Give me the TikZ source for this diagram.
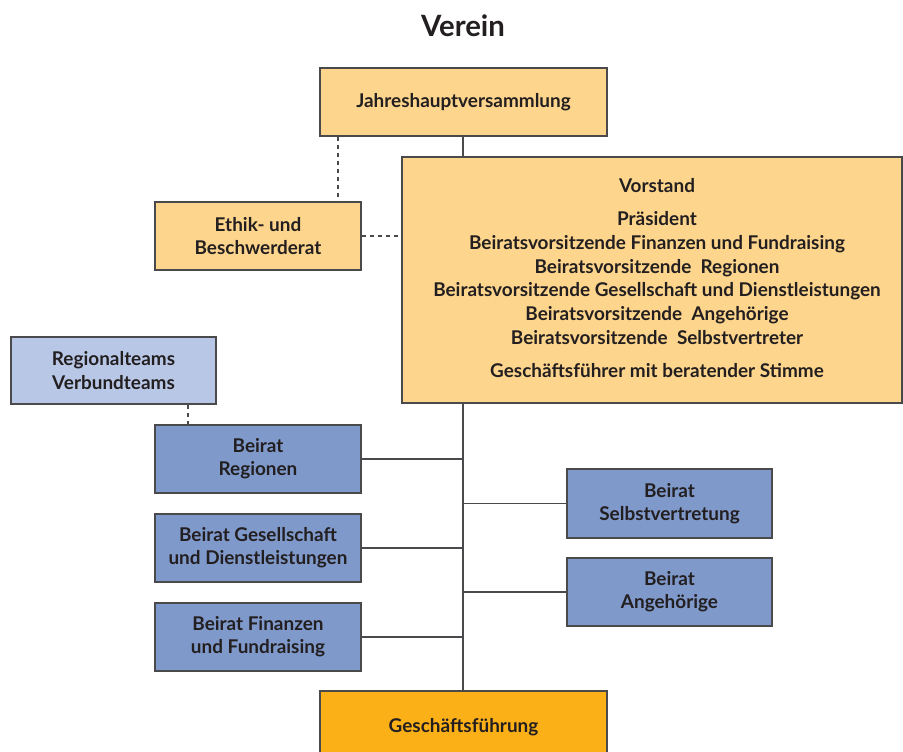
\documentclass[tikz,border=0pt]{standalone}
\usepackage{fontspec}
\setmainfont{Lato}
\definecolor{lorange}{HTML}{FDD58C}
\definecolor{dorange}{HTML}{FBB017}
\definecolor{mblue}{HTML}{7F99CB}
\definecolor{lblue}{HTML}{B8C7E6}
\definecolor{edge}{HTML}{4A4A4C}
\definecolor{txt}{HTML}{231F20}
\begin{document}
\begin{tikzpicture}[x=0.75pt,y=-0.75pt,
  box/.style={draw=edge,line width=1.1pt,inner sep=0pt,align=center,text=txt,
    font=\fontsize{14.2}{17.4}\selectfont\bfseries},
  vtext/.style={text=txt,align=center,inner sep=0pt,font=\fontsize{14.2}{17.9}\selectfont\bfseries},
  conn/.style={draw=edge,line width=1pt},
  dconn/.style={draw=edge,line width=1pt,dash pattern=on 3pt off 3pt}]
\useasboundingbox (0,0) rectangle (903,751);
\clip (0,0) rectangle (903,751);
\node[text=txt,font=\fontsize{22}{26}\selectfont\bfseries] (title) at (463,26) {Verein};
\node[box,fill=lorange,minimum width=287*0.75pt,minimum height=68*0.75pt] (jhv) at (463.5,102) {\raisebox{-1.5pt}{Jahreshauptversammlung}};
\node[box,fill=lorange,minimum width=500*0.75pt,minimum height=246*0.75pt] (vor) at (652,280) {};
\node[vtext] (vort) at (657,186) {Vorstand};
\node[vtext,anchor=north] (vorl) at (657,211) {Präsident\\Beiratsvorsitzende Finanzen und Fundraising\\Beiratsvorsitzende~~Regionen\\Beiratsvorsitzende Gesellschaft und Dienstleistungen\\Beiratsvorsitzende~~Angehörige\\Beiratsvorsitzende~~Selbstvertreter};
\node[vtext] (vorg) at (657,371) {Geschäftsführer mit beratender Stimme};
\node[box,fill=lorange,minimum width=206*0.75pt,minimum height=68*0.75pt] (ethik) at (258,236) {Ethik- und\\Beschwerderat};
\node[box,fill=lblue,minimum width=205*0.75pt,minimum height=67*0.75pt] (regt) at (113.5,370.5) {Regionalteams\\Verbundteams};
\node[box,fill=mblue,minimum width=206*0.75pt,minimum height=68*0.75pt] (br) at (258,459) {Beirat\\Regionen};
\node[box,fill=mblue,minimum width=206*0.75pt,minimum height=68*0.75pt] (bg) at (258,548) {Beirat Gesellschaft\\und Dienstleistungen};
\node[box,fill=mblue,minimum width=206*0.75pt,minimum height=68*0.75pt] (bf) at (258,637) {Beirat Finanzen\\und Fundraising};
\node[box,fill=mblue,minimum width=205*0.75pt,minimum height=69*0.75pt] (bs) at (669.5,503.5) {Beirat\\Selbstvertretung};
\node[box,fill=mblue,minimum width=205*0.75pt,minimum height=68*0.75pt] (ba) at (669.5,592) {Beirat\\Angehörige};
\node[box,fill=dorange,minimum width=287*0.75pt,minimum height=72*0.75pt] (gf) at (463.5,727) {\raisebox{-1.5pt}{Geschäftsführung}};
\coordinate (tx) at (463,0);
\draw[conn] (jhv.south -| tx) -- (vor.north -| tx);
\draw[conn] (vor.south -| tx) -- (gf.north -| tx);
\draw[conn] (br.east) -- (br.east -| tx);
\draw[conn] (bg.east) -- (bg.east -| tx);
\draw[conn] (bf.east) -- (bf.east -| tx);
\draw[conn] (bs.west) -- (bs.west -| tx);
\draw[conn] (ba.west) -- (ba.west -| tx);
\coordinate (d1) at (338,0);
\draw[dconn] (jhv.south -| d1) -- (ethik.north -| d1);
\draw[dconn] (ethik.east) -- (ethik.east -| vor.west);
\coordinate (d2) at (188,0);
\draw[dconn] (regt.south -| d2) -- (br.north -| d2);
\end{tikzpicture}
\end{document}
